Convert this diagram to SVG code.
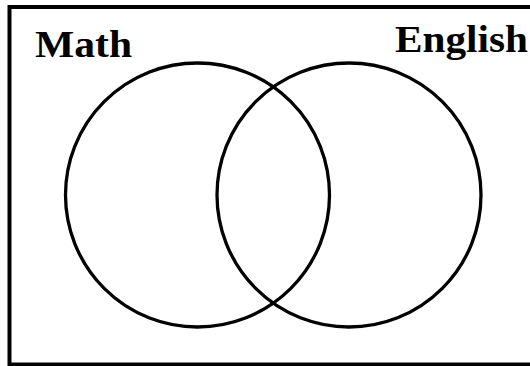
<svg xmlns="http://www.w3.org/2000/svg" width="530" height="366" viewBox="0 0 530 366">
<style>
.frame{fill:none;stroke:#000;stroke-width:4}
.set{fill:none;stroke:#000;stroke-width:3.3}
.lbl{font-family:"Liberation Serif","Times New Roman",serif;font-weight:bold;font-size:38px;fill:#000}
</style>
<rect width="530" height="366" fill="#fff"/>
<g id="universe"><rect class="frame" x="9.5" y="7" width="526" height="357.5"/></g>
<g id="math">
<circle class="set" cx="197.5" cy="195" r="132"/>
<text class="lbl" x="35" y="57" textLength="97" lengthAdjust="spacingAndGlyphs">Math</text>
</g>
<g id="english">
<circle class="set" cx="349" cy="195" r="132"/>
<text class="lbl" x="395" y="52" textLength="133" lengthAdjust="spacingAndGlyphs">English</text>
</g>
<g id="connectors"></g>
</svg>
